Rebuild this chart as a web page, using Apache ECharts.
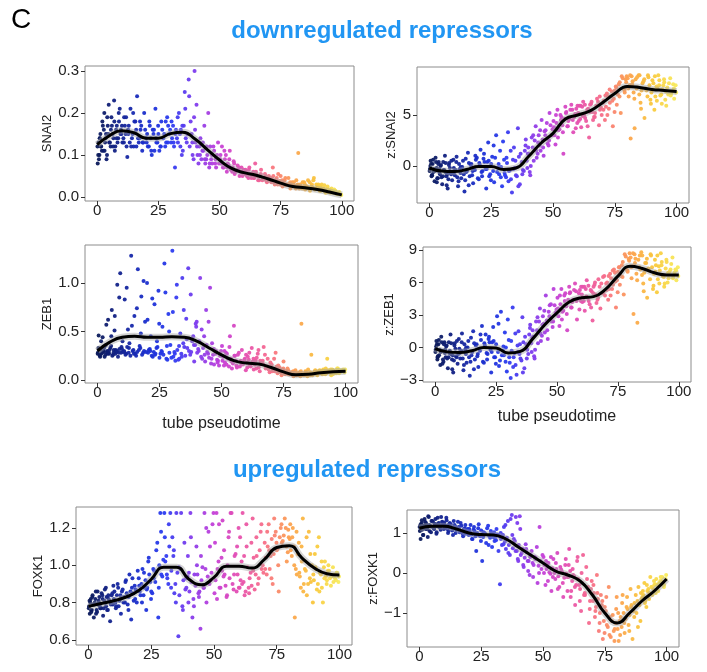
<!DOCTYPE html>
<html>
<head>
<meta charset="utf-8">
<script src="https://cdn.jsdelivr.net/npm/echarts@6/dist/echarts.min.js"></script>
<style>
  html, body { margin: 0; padding: 0; background: #fff; }
  #main { width: 707px; height: 672px; }
</style>
</head>
<body>
<div id="main"></div>
<script>
// pseudotime of each cell (shared by all panels), three batches of cells
var pseudotime = [
  0.2, 0.5, 0.9, 1.3, 1.6, 2.1, 2.5, 2.9, 3.4, 3.8, 4.3, 4.7, 5.2, 5.8, 6.3, 6.9, 7.4, 8.0, 8.6, 9.2, 9.7,
  10.3, 11.0, 11.6, 12.3, 12.9, 13.6, 14.2, 14.9, 15.6, 16.3, 17.0, 17.7, 18.4, 19.2,
  20.0, 20.7, 21.5, 22.3, 23.0, 23.8, 24.6, 25.4, 26.2, 27.0, 27.8, 28.6, 29.4,
  30.2, 31.0, 31.8, 32.6, 33.4, 34.2, 35.0, 35.8, 36.6, 37.4, 38.2, 39.0, 39.8,
  40.6, 41.4, 42.2, 43.0, 43.8, 44.6, 45.4, 46.2, 47.0, 47.8, 48.6, 49.4,
  50.2, 51.0, 51.8, 52.6, 53.4, 54.2, 55.0, 55.8, 56.6, 57.4, 58.2, 59.0, 59.8,
  60.6, 61.4, 62.2, 63.0, 63.8, 64.6, 65.4, 66.2, 67.0, 67.8, 68.6, 69.4,
  70.2, 71.0, 71.8, 72.6, 73.4, 74.2, 75.0, 75.8, 76.6, 77.4, 78.2, 79.0, 79.8,
  80.6, 81.4, 82.2, 83.0, 83.8, 84.6, 85.4, 86.2, 87.0, 87.8, 88.6, 89.4,
  90.2, 91.0, 91.8, 92.6, 93.4, 94.2, 95.0, 95.8, 96.6, 97.4, 98.2, 99.0, 99.6
];
var pseudotimeB = [
  0.1, 0.7, 1.1, 1.9, 2.7, 3.2, 4.0, 4.5, 5.5, 6.0, 6.6, 7.2, 7.7, 8.3, 8.9, 9.5,
  10.7, 11.3, 12.0, 12.6, 13.3, 14.5, 15.2, 16.0, 17.3, 18.0, 18.8,
  20.4, 21.1, 21.9, 22.7, 23.4, 24.2, 25.0, 25.8, 26.6, 28.2, 29.0,
  30.6, 31.4, 32.2, 33.0, 33.8, 34.6, 35.4, 36.2, 37.8, 38.6, 39.4,
  40.2, 41.0, 41.8, 42.6, 43.4, 44.2, 45.0, 45.8, 46.6, 48.2, 49.0,
  50.6, 51.4, 52.2, 53.0, 53.8, 54.6, 55.4, 56.2, 57.8, 58.6, 59.4,
  60.2, 61.0, 61.8, 62.6, 63.4, 64.2, 65.0, 65.8, 66.6, 68.2, 69.0,
  70.6, 71.4, 72.2, 73.0, 73.8, 74.6, 75.4, 76.2, 77.0, 78.6, 79.4,
  80.2, 81.0, 81.8, 82.6, 83.4, 84.2, 85.0, 85.8, 86.6, 88.2, 89.0,
  89.8, 90.6, 91.4, 92.2, 93.0, 93.8, 94.6, 95.4, 96.2, 97.8, 98.6
];
var pseudotimeC = [
  0.4, 1.0, 1.5, 2.3, 3.0, 3.6, 4.1, 4.9, 5.6, 6.5, 7.0, 7.9, 8.8, 9.9,
  10.1, 10.9, 11.8, 12.7, 13.9, 14.7, 15.9, 16.7, 17.5, 18.6, 19.6,
  20.2, 21.3, 22.1, 23.2, 24.0, 24.9, 26.0, 27.4, 28.0, 28.9, 29.8,
  30.4, 31.2, 32.0, 32.9, 34.0, 34.8, 36.0, 36.9, 37.6, 38.9, 39.6,
  40.0, 40.8, 42.0, 43.2, 44.0, 44.8, 46.0, 46.9, 47.5, 48.4, 49.8,
  50.4, 51.2, 52.0, 53.2, 54.0, 55.2, 56.0, 57.0, 58.0, 59.2, 59.9,
  60.4, 61.2, 62.0, 62.9, 64.0, 64.9, 65.6, 66.9, 67.5, 68.9, 69.7,
  70.4, 71.2, 72.0, 72.9, 74.0, 74.9, 75.6, 76.9, 77.8, 78.9, 79.6,
  80.4, 81.2, 82.0, 82.9, 84.0, 84.9, 85.6, 86.9, 87.5, 88.4, 89.6,
  90.4, 91.2, 92.0, 92.9, 94.0, 94.9, 95.6, 96.9, 97.6, 98.9, 99.8
];

var snai2 = [
  0.08, 0.13, 0.10, 0.15, 0.12, 0.18, 0.11, 0.20, 0.14, 0.09, 0.17, 0.22, 0.13, 0.19, 0.15, 0.23, 0.12, 0.17, 0.14, 0.21, 0.16,
  0.13, 0.19, 0.15, 0.095, 0.17, 0.21, 0.14, 0.12, 0.18, 0.24, 0.13, 0.16, 0.11, 0.20,
  0.14, 0.12, 0.17, 0.10, 0.15, 0.21, 0.13, 0.11, 0.18, 0.14, 0.12, 0.19, 0.15,
  0.13, 0.17, 0.07, 0.14, 0.20, 0.16, 0.11, 0.25, 0.13, 0.28, 0.18, 0.10, 0.30,
  0.22, 0.08, 0.14, 0.11, 0.17, 0.09, 0.20, 0.12, 0.08, 0.11, 0.07, 0.13,
  0.09, 0.12, 0.07, 0.10, 0.08, 0.11, 0.065, 0.085, 0.06, 0.075, 0.05, 0.07, 0.055,
  0.065, 0.05, 0.07, 0.045, 0.06, 0.08, 0.05, 0.04, 0.065, 0.045, 0.055, 0.035,
  0.05, 0.04, 0.07, 0.03, 0.045, 0.035, 0.05, 0.025, 0.04, 0.03, 0.045, 0.02, 0.035,
  0.025, 0.04, 0.105, 0.03, 0.02, 0.035, 0.025, 0.04, 0.015, 0.03, 0.045, 0.02,
  0.025, 0.015, 0.03, 0.02, 0.01, 0.025, 0.015, 0.02, 0.01, 0.015, 0.008, 0.012, 0.006
];
var snai2B = [
  0.12, 0.09, 0.14, 0.11, 0.16, 0.13, 0.10, 0.15, 0.12, 0.17, 0.14, 0.11, 0.16, 0.13, 0.18, 0.15,
  0.14, 0.17, 0.12, 0.16, 0.13, 0.15, 0.18, 0.12, 0.14, 0.17, 0.13,
  0.15, 0.12, 0.14, 0.16, 0.11, 0.13, 0.15, 0.12, 0.16, 0.13, 0.17,
  0.14, 0.12, 0.16, 0.13, 0.15, 0.10, 0.17, 0.14, 0.12, 0.15, 0.09,
  0.13, 0.10, 0.12, 0.09, 0.11, 0.08, 0.10, 0.07, 0.09, 0.08, 0.10,
  0.08, 0.07, 0.09, 0.06, 0.075, 0.065, 0.07, 0.055, 0.065, 0.06, 0.05,
  0.055, 0.06, 0.045, 0.055, 0.05, 0.045, 0.055, 0.04, 0.05, 0.045, 0.04,
  0.04, 0.045, 0.035, 0.04, 0.03, 0.038, 0.032, 0.035, 0.028, 0.03, 0.025,
  0.03, 0.025, 0.028, 0.02, 0.025, 0.022, 0.018, 0.025, 0.02, 0.022, 0.018,
  0.02, 0.018, 0.015, 0.02, 0.014, 0.016, 0.012, 0.01, 0.012, 0.008, 0.007
];
var snai2C = [
  0.10, 0.14, 0.12, 0.17, 0.11, 0.15, 0.19, 0.13, 0.16, 0.12, 0.18, 0.14, 0.20, 0.15,
  0.17, 0.13, 0.19, 0.15, 0.12, 0.20, 0.16, 0.14, 0.18, 0.13, 0.16,
  0.13, 0.18, 0.11, 0.16, 0.14, 0.17, 0.12, 0.15, 0.18, 0.13, 0.16,
  0.18, 0.13, 0.15, 0.19, 0.12, 0.17, 0.21, 0.15, 0.24, 0.13, 0.19,
  0.16, 0.12, 0.10, 0.13, 0.09, 0.12, 0.08, 0.10, 0.12, 0.09, 0.08,
  0.10, 0.08, 0.11, 0.07, 0.09, 0.06, 0.08, 0.065, 0.07, 0.06, 0.065,
  0.06, 0.05, 0.065, 0.055, 0.045, 0.06, 0.05, 0.055, 0.04, 0.05, 0.045,
  0.045, 0.035, 0.05, 0.04, 0.055, 0.03, 0.04, 0.045, 0.03, 0.035, 0.03,
  0.035, 0.02, 0.03, 0.025, 0.035, 0.03, 0.02, 0.035, 0.025, 0.04, 0.03,
  0.03, 0.025, 0.02, 0.028, 0.02, 0.018, 0.015, 0.018, 0.012, 0.01, 0.005
];
var zSnai2 = [
  -0.3, 0.5, -1.0, 0.2, -0.6, -1.5, 0.8, -0.2, -1.2, 0.4, -0.8, 0.1, -1.8, -0.4, 1.0, -1.0, -2.2, 0.3, -0.7, -1.4, 0.6,
  -0.9, 0.9, -2.0, -0.3, -1.2, 0.5, -2.5, -0.6, 1.3, -1.0, 0.2, -1.7, -0.4, 0.8,
  -1.3, 1.6, -0.5, 0.4, -2.2, 2.3, -0.8, 0.9, -1.6, 3.0, -0.2, 1.5, -2.0,
  0.6, -1.1, 3.3, -0.4, -2.6, 1.8, -0.9, 3.7, -1.8, 0.4, -0.5, 2.6, 1.2,
  -0.6, 2.8, 0.5, 3.9, 1.2, 2.0, 4.5, 1.0, 3.5, 2.2, 5.2, 3.0,
  4.4, 2.1, 5.5, 3.6, 4.8, 1.2, 5.8, 3.9, 4.6, 6.0, 3.3, 5.1, 4.2,
  5.9, 3.8, 6.3, 4.7, 5.5, 2.8, 6.1, 4.5, 5.2, 6.6, 4.0, 5.7,
  6.2, 4.5, 7.1, 5.6, 6.8, 3.9, 7.4, 6.0, 8.0, 5.2, 8.6, 7.2, 8.8,
  6.8, 2.7, 8.3, 3.7, 7.6, 8.9, 6.2, 8.1, 4.7, 7.4, 8.7, 6.5,
  8.4, 5.5, 7.8, 8.9, 6.9, 7.5, 8.2, 5.9, 7.0, 8.6, 7.3, 6.6, 7.9
];
var zSnai2B = [
  -0.5, 0.2, -0.9, -0.3, 0.4, -1.2, -0.6, 0.0, -1.0, -0.4, 0.3, -0.8, -1.3, -0.2, 0.5, -0.7,
  -0.4, -1.1, 0.2, -0.7, -0.1, -1.4, -0.5, 0.3, -0.9, -0.2, 0.6,
  0.1, -0.6, 0.7, -0.3, 0.4, -1.0, 0.2, -0.5, 0.8, -0.8, -0.1,
  -0.9, 0.3, -0.5, -1.3, 0.6, -0.2, -1.0, 0.9, -0.4, 1.5, 0.5,
  1.2, 0.0, 1.8, 2.5, 0.8, 3.0, 1.5, 2.6, 3.4, 2.0, 4.0,
  3.0, 4.2, 3.5, 5.0, 4.0, 4.6, 5.3, 4.4, 5.5, 4.8, 5.6,
  5.2, 4.6, 5.8, 5.0, 4.4, 5.6, 6.0, 5.3, 4.8, 6.3, 5.5,
  6.4, 5.8, 6.8, 6.2, 7.3, 6.6, 7.8, 7.0, 8.2, 7.6, 8.5,
  8.6, 7.9, 8.8, 7.2, 8.5, 7.7, 8.9, 7.4, 8.3, 6.8, 7.9,
  7.2, 8.1, 6.8, 7.6, 8.4, 7.0, 7.9, 6.5, 7.7, 7.1, 8.0
];
var zSnai2C = [
  0.0, -0.9, 0.6, -0.5, -1.6, 0.2, -0.3, -1.1, 0.4, -0.6, -1.9, 0.1, -0.8, -0.2,
  -0.6, 0.4, -1.5, -0.1, -0.8, 0.7, -1.9, 0.1, -0.5, 1.0, -1.2,
  0.3, -1.0, 1.2, -0.3, 0.5, -1.4, 2.0, -0.6, 0.2, -1.1, 2.4,
  -0.7, 0.8, -1.5, 1.5, -0.3, 0.5, -2.0, 1.2, -0.8, 2.0, -0.2,
  1.8, -0.9, 3.0, 1.5, 2.3, 3.5, 1.8, 3.0, 4.2, 2.5, 3.6,
  3.8, 5.0, 2.8, 4.5, 3.3, 5.2, 3.9, 5.5, 4.5, 3.7, 5.9,
  4.4, 5.9, 4.9, 6.0, 3.9, 5.3, 6.3, 4.8, 5.9, 6.8, 5.0,
  5.5, 6.9, 5.0, 7.5, 6.4, 5.3, 7.7, 6.8, 8.8, 7.4, 8.2,
  7.6, 8.9, 8.0, 6.6, 8.7, 7.0, 5.6, 8.5, 7.6, 8.9, 6.1,
  7.5, 8.8, 6.4, 7.9, 6.1, 8.5, 7.3, 8.1, 6.9, 7.6, 7.2
];
var zeb1 = [
  0.28, 0.46, 0.25, 0.32, 0.27, 0.44, 0.30, 0.24, 0.36, 0.29, 0.62, 0.27, 0.33, 0.72, 0.26, 0.51, 0.31, 0.98, 0.28, 1.10, 0.34,
  0.29, 0.83, 0.27, 0.52, 0.38, 1.28, 0.30, 0.66, 0.25, 1.14, 0.35, 0.86, 0.28, 0.60,
  1.00, 0.31, 0.45, 0.24, 0.78, 0.33, 0.92, 0.27, 0.55, 1.20, 0.22, 0.68, 0.36,
  1.33, 0.29, 0.85, 0.21, 0.48, 1.05, 0.34, 0.63, 1.15, 0.26, 0.40, 0.19, 0.55,
  0.32, 1.05, 0.22, 0.45, 0.72, 0.27, 0.95, 0.38, 0.16, 0.30, 0.20, 0.25,
  0.35, 0.15, 0.28, 0.22, 0.45, 0.12, 0.56, 0.20, 0.26, 0.14, 0.31, 0.18, 0.10,
  0.24, 0.15, 0.33, 0.11, 0.20, 0.27, 0.09, 0.18, 0.34, 0.12, 0.22, 0.08,
  0.16, 0.10, 0.28, 0.07, 0.13, 0.05, 0.19, 0.09, 0.12, 0.06, 0.08, 0.04, 0.10,
  0.06, 0.08, 0.58, 0.05, 0.09, 0.04, 0.07, 0.26, 0.06, 0.10, 0.05, 0.08,
  0.07, 0.11, 0.06, 0.22, 0.09, 0.05, 0.10, 0.08, 0.12, 0.07, 0.09, 0.11, 0.08
];
var zeb1B = [
  0.27, 0.31, 0.24, 0.29, 0.33, 0.26, 0.30, 0.28, 0.35, 0.25, 0.31, 0.27, 0.29, 0.24, 0.32, 0.28,
  0.30, 0.26, 0.34, 0.28, 0.25, 0.31, 0.27, 0.29, 0.33, 0.26, 0.30,
  0.28, 0.32, 0.25, 0.29, 0.27, 0.34, 0.23, 0.30, 0.26, 0.21, 0.28,
  0.24, 0.20, 0.31, 0.22, 0.27, 0.38, 0.25, 0.33, 0.29, 0.45, 0.36,
  0.28, 0.40, 0.24, 0.33, 0.19, 0.29, 0.23, 0.17, 0.26, 0.21, 0.15,
  0.24, 0.18, 0.27, 0.14, 0.22, 0.17, 0.25, 0.13, 0.20, 0.16, 0.22,
  0.18, 0.21, 0.14, 0.19, 0.16, 0.23, 0.13, 0.17, 0.20, 0.14, 0.11,
  0.12, 0.09, 0.14, 0.10, 0.08, 0.11, 0.07, 0.09, 0.06, 0.07, 0.05,
  0.05, 0.07, 0.04, 0.06, 0.05, 0.07, 0.06, 0.08, 0.05, 0.07, 0.09,
  0.08, 0.06, 0.09, 0.07, 0.10, 0.08, 0.11, 0.09, 0.07, 0.10, 0.09
];
var zeb1C = [
  0.33, 0.26, 0.40, 0.29, 0.35, 0.57, 0.27, 0.31, 0.45, 0.28, 0.66, 0.30, 0.85, 0.32,
  0.40, 0.29, 0.95, 0.33, 0.56, 0.27, 0.74, 0.31, 0.48, 1.02, 0.29,
  0.62, 0.30, 0.84, 0.26, 0.40, 0.58, 0.29, 0.90, 0.35, 0.50, 0.23,
  0.70, 0.27, 0.98, 0.35, 0.24, 0.72, 0.42, 0.30, 0.88, 0.36, 0.58,
  0.60, 0.30, 0.52, 0.26, 0.36, 0.60, 0.22, 0.32, 0.27, 0.18, 0.30,
  0.20, 0.30, 0.16, 0.34, 0.19, 0.25, 0.15, 0.28, 0.17, 0.21, 0.26,
  0.13, 0.28, 0.17, 0.22, 0.12, 0.31, 0.20, 0.16, 0.26, 0.14, 0.18,
  0.09, 0.22, 0.11, 0.15, 0.08, 0.12, 0.06, 0.10, 0.07, 0.09, 0.06,
  0.07, 0.05, 0.09, 0.06, 0.08, 0.11, 0.05, 0.07, 0.09, 0.06, 0.10,
  0.09, 0.07, 0.12, 0.08, 0.11, 0.06, 0.09, 0.12, 0.08, 0.10, 0.11
];
var zZeb1 = [
  -0.2, 0.6, -1.1, 0.3, -0.7, -1.6, 1.0, -0.3, -1.3, 0.5, -0.9, 0.2, -1.9, -0.5, 1.2, -1.1, -2.3, 0.4, -0.8, -1.5, 0.8,
  -1.0, 1.3, -2.1, -0.2, -1.4, 0.6, -2.6, -0.7, 1.5, -1.1, 0.3, -1.8, -0.3, 2.0,
  -1.4, 1.2, -0.6, 0.5, -2.3, 1.9, -0.9, 2.9, -1.7, 3.3, -0.3, 1.4, -2.2,
  0.7, -2.8, 3.7, -0.5, -2.5, 1.5, -1.0, 2.8, -1.9, 0.3, -0.6, 2.1, 0.9,
  -0.8, 2.4, 0.4, 3.6, 1.1, 2.2, 4.8, 0.8, 3.9, 2.4, 5.4, 3.2,
  4.6, 2.0, 5.4, 3.4, 5.0, 1.6, 5.6, 3.7, 4.4, 5.9, 2.6, 5.0, 4.3,
  5.6, 3.4, 6.2, 4.3, 5.3, 2.5, 5.8, 4.1, 6.3, 3.6, 5.0, 6.6,
  5.9, 4.4, 6.8, 5.4, 7.2, 3.7, 7.0, 5.8, 7.6, 4.9, 8.4, 7.0, 8.7,
  6.4, 3.1, 8.2, 2.3, 7.4, 8.8, 5.9, 7.8, 4.6, 7.1, 8.5, 5.4,
  8.1, 5.1, 7.5, 8.7, 6.6, 5.9, 7.9, 6.4, 7.2, 8.3, 6.9, 6.2, 7.4
];
var zZeb1B = [
  -0.4, 0.3, -0.8, -0.2, 0.5, -1.1, -0.5, 0.1, -0.9, -0.3, 0.4, -0.7, -1.2, -0.1, 0.6, -0.6,
  -0.3, -1.0, 0.3, -0.6, 0.0, -1.3, -0.4, 0.4, -0.8, -0.1, 0.7,
  0.2, -0.5, 0.8, -0.2, 0.5, -0.9, 0.3, -0.4, -1.2, -0.7, 0.0,
  -1.4, -0.3, -0.9, -1.6, 0.2, -0.6, -1.2, 0.5, -0.2, 1.2, 0.4,
  1.0, -0.2, 1.6, 2.4, 0.6, 2.9, 1.4, 2.5, 3.3, 1.9, 3.9,
  2.9, 4.0, 3.3, 4.8, 3.8, 4.4, 5.1, 4.2, 5.2, 4.5, 5.3,
  4.9, 4.3, 5.4, 4.6, 4.0, 5.2, 5.6, 4.9, 4.4, 5.9, 5.1,
  6.0, 5.4, 6.4, 5.8, 6.9, 6.2, 7.4, 6.6, 7.9, 7.2, 8.2,
  8.3, 7.5, 8.6, 6.8, 8.1, 7.2, 8.5, 6.9, 7.8, 6.3, 7.4,
  6.8, 7.6, 6.3, 7.1, 7.9, 6.5, 7.3, 6.0, 7.0, 6.6, 7.2
];
var zZeb1C = [
  0.1, -0.9, 0.7, -0.4, -1.5, 0.3, -0.2, -1.0, 0.5, -0.6, -2.0, 0.2, -0.9, -0.1,
  -0.5, 0.5, -1.6, 0.0, -0.9, 0.9, -2.0, 0.2, -0.6, 1.2, -1.3,
  0.4, -1.1, 1.0, -0.4, 0.6, -1.5, 2.2, -0.7, 0.1, -1.3, 2.6,
  -0.9, 0.6, -1.8, 1.3, -0.4, 0.3, -2.3, 1.0, -1.0, 1.8, -0.4,
  1.6, -1.0, 2.8, 1.3, 2.1, 3.4, 1.6, 2.9, 4.0, 2.4, 3.5,
  3.6, 4.8, 2.6, 4.3, 3.1, 5.0, 3.7, 5.3, 4.3, 3.5, 5.6,
  4.2, 5.6, 4.7, 5.7, 3.7, 5.0, 6.0, 4.6, 5.6, 6.5, 4.8,
  5.3, 6.6, 4.8, 7.1, 6.1, 5.1, 7.4, 6.5, 8.6, 7.1, 8.0,
  7.4, 8.7, 7.8, 6.2, 8.5, 6.7, 5.2, 8.2, 7.3, 8.6, 5.7,
  7.0, 8.5, 5.9, 7.6, 5.6, 8.1, 6.9, 7.7, 6.4, 7.1, 6.6
];
var foxk1 = [
  0.78, 0.74, 0.82, 0.76, 0.84, 0.72, 0.80, 0.86, 0.75, 0.79, 0.83, 0.77, 0.85, 0.73, 0.81, 0.88, 0.76, 0.82, 0.70, 0.84, 0.79,
  0.86, 0.78, 0.90, 0.81, 0.74, 0.87, 0.83, 0.92, 0.79, 0.95, 0.71, 0.85, 0.89, 0.80,
  0.93, 0.84, 0.98, 0.88, 0.76, 1.02, 0.91, 0.85, 0.97, 1.08, 0.72, 1.28, 0.94,
  1.28, 1.05, 0.90, 1.28, 1.15, 0.85, 1.28, 0.62, 0.98, 0.78, 1.12, 0.88, 0.80,
  1.28, 0.72, 0.95, 1.10, 0.85, 0.66, 0.99, 1.28, 0.80, 1.18, 0.92, 1.22,
  0.85, 1.28, 1.02, 0.88, 1.24, 0.95, 0.83, 1.15, 1.28, 0.90, 1.05, 0.86, 1.20,
  0.92, 1.28, 0.84, 1.10, 0.88, 0.96, 1.25, 0.87, 1.05, 0.93, 1.18, 1.00,
  1.12, 0.95, 1.22, 1.05, 0.90, 1.16, 1.08, 0.86, 1.20, 1.13, 1.25, 1.02, 1.15,
  1.08, 1.20, 0.72, 0.95, 1.12, 0.88, 1.25, 0.98, 0.84, 1.18, 0.91, 0.80,
  1.06, 0.87, 1.15, 0.95, 0.80, 1.02, 0.92, 0.97, 0.89, 0.99, 0.93, 0.96, 0.91
];
var foxk1B = [
  0.77, 0.80, 0.75, 0.79, 0.82, 0.76, 0.81, 0.78, 0.84, 0.77, 0.80, 0.83, 0.76, 0.81, 0.79, 0.85,
  0.80, 0.84, 0.78, 0.82, 0.86, 0.80, 0.85, 0.83, 0.88, 0.81, 0.87,
  0.86, 0.90, 0.84, 0.92, 0.88, 0.95, 0.86, 0.98, 0.91, 1.00, 0.95,
  1.02, 0.93, 1.10, 0.97, 1.05, 0.90, 0.96, 0.84, 0.92, 0.87, 0.94,
  0.86, 0.91, 0.82, 0.89, 0.95, 0.86, 0.92, 0.88, 0.98, 0.90, 0.96,
  0.92, 0.98, 0.88, 1.04, 0.94, 0.89, 1.00, 0.93, 0.87, 1.06, 0.95,
  0.88, 1.02, 0.91, 0.86, 0.99, 0.93, 0.89, 1.04, 0.95, 1.08, 0.98,
  1.04, 1.10, 0.98, 1.14, 1.06, 1.18, 1.09, 1.15, 1.12, 1.20, 1.07,
  1.14, 1.05, 1.10, 0.98, 1.06, 0.94, 1.02, 0.90, 0.97, 0.93, 1.00,
  0.92, 0.98, 0.90, 0.96, 0.88, 0.99, 0.94, 0.97, 0.93, 0.95, 0.92
];
var foxk1C = [
  0.81, 0.76, 0.83, 0.79, 0.74, 0.86, 0.80, 0.77, 0.82, 0.87, 0.78, 0.84, 0.80, 0.89,
  0.82, 0.77, 0.88, 0.84, 0.80, 0.91, 0.76, 0.86, 0.93, 0.82, 0.97,
  0.89, 0.80, 0.96, 0.87, 1.04, 0.82, 0.93, 1.12, 0.88, 1.18, 1.03,
  1.15, 0.95, 1.22, 0.88, 1.08, 0.80, 0.99, 1.28, 0.76, 0.93, 1.05,
  0.96, 1.15, 0.78, 1.00, 0.83, 1.05, 0.88, 1.20, 0.94, 1.10, 1.28,
  1.12, 0.82, 1.22, 0.97, 1.08, 0.84, 1.18, 1.28, 0.95, 1.10, 0.88,
  1.15, 0.90, 1.05, 1.22, 0.85, 1.12, 0.97, 1.15, 0.90, 1.22, 0.96,
  0.98, 1.18, 1.08, 0.93, 1.25, 1.12, 1.00, 1.22, 1.16, 1.10, 1.19,
  1.22, 1.15, 1.00, 1.18, 0.96, 1.10, 0.86, 1.15, 0.90, 1.06, 0.95,
  0.99, 1.10, 0.86, 1.02, 0.93, 0.90, 1.00, 0.94, 0.91, 0.96, 0.94
];
var zFoxk1 = [
  1.05, 0.85, 1.25, 1.15, 0.95, 1.35, 1.10, 1.20, 0.90, 1.40, 1.18, 1.02, 1.30, 1.12, 1.22, 0.98, 1.38, 1.15, 1.08, 1.28, 1.20,
  1.12, 1.32, 1.00, 1.25, 1.15, 0.95, 1.20, 1.08, 1.28, 1.02, 1.18, 0.92, 1.12, 1.05,
  0.95, 1.20, 0.85, 1.05, 0.55, 1.12, 0.92, 0.30, 1.00, 0.75, 1.18, 0.88, 0.65,
  1.02, 0.82, 0.95, -0.28, 0.70, 1.15, 0.60, 1.30, 0.45, 1.45, 0.85, 1.40, 0.35,
  1.42, 0.50, 0.15, 0.72, 0.30, -0.05, 0.55, 0.20, 0.38, -0.25, 1.15, 0.10,
  0.40, -0.30, 0.25, 0.02, -0.45, 0.35, -0.15, 0.50, -0.35, 0.08, -0.60, 0.20, -0.10,
  0.60, -0.45, -0.05, -0.80, 0.30, -0.30, -0.95, 0.45, -0.55, -0.15, -1.25, -0.40,
  -0.70, -1.10, -0.05, -1.45, -0.55, -1.65, -0.85, -1.30, -0.35, -1.60, -1.05, -1.40, -0.60,
  -1.70, -1.10, -0.55, -1.50, -0.85, -1.30, -0.40, -1.65, -0.75, -1.00, -0.35, -1.20,
  -0.60, -0.25, -0.85, -0.40, -0.10, -0.55, -0.30, -0.15, -0.45, -0.20, -0.10, -0.30, -0.15
];
var zFoxk1B = [
  1.15, 1.22, 1.08, 1.18, 1.25, 1.12, 1.20, 1.16, 1.28, 1.10, 1.22, 1.17, 1.24, 1.14, 1.19, 1.26,
  1.18, 1.10, 1.22, 1.14, 1.06, 1.16, 1.08, 1.12, 1.02, 1.10, 0.98,
  1.04, 0.96, 1.08, 0.92, 1.00, 0.95, 1.06, 0.90, 0.98, 0.93, 0.99,
  0.88, 0.96, 0.92, 0.85, 0.95, 0.78, 0.88, 0.70, 0.62, 0.80, 0.55,
  0.70, 0.45, 0.60, 0.38, 0.52, 0.30, 0.45, 0.25, 0.40, 0.18, 0.30,
  0.20, 0.10, 0.25, -0.02, 0.12, 0.00, 0.10, -0.08, 0.02, -0.12, -0.02,
  -0.10, 0.05, -0.20, -0.08, -0.30, -0.15, -0.40, -0.25, -0.55, -0.35, -0.70,
  -0.50, -0.85, -0.65, -1.00, -0.80, -1.20, -0.95, -1.35, -1.10, -1.45, -1.25,
  -1.40, -1.20, -1.35, -1.00, -1.15, -0.90, -1.05, -0.80, -0.95, -0.70, -0.80,
  -0.65, -0.55, -0.70, -0.45, -0.50, -0.35, -0.40, -0.28, -0.30, -0.20, -0.22
];
var zFoxk1C = [
  1.20, 1.32, 0.95, 1.28, 1.10, 1.42, 1.05, 1.30, 1.14, 1.35, 1.02, 1.25, 1.40, 1.10,
  1.25, 1.38, 1.05, 1.22, 1.30, 1.00, 1.15, 1.25, 0.98, 1.20, 1.10,
  1.10, 0.85, 1.15, 0.98, 1.22, 0.80, 1.02, 1.12, 0.70, 1.05, 0.90,
  0.80, 1.10, 0.55, 1.00, 0.72, 1.20, 0.50, 1.35, 0.95, 0.55, 1.25,
  0.30, 1.10, 0.20, 0.60, 0.05, 0.40, -0.10, 0.35, 0.65, 0.00, 0.45,
  0.00, 0.30, -0.20, 0.40, -0.10, 0.25, -0.40, 0.15, -0.25, 0.35, -0.45,
  0.20, -0.60, 0.10, -0.35, 0.40, -0.70, 0.00, -0.50, 0.15, -0.90, -0.20,
  -0.30, -0.95, -0.50, -1.25, -0.70, -1.50, -0.60, -1.55, -1.20, -1.70, -0.90,
  -1.00, -1.55, -0.75, -1.25, -0.60, -1.45, -0.85, -1.10, -0.55, -1.35, -0.50,
  -0.45, -0.75, -0.30, -0.65, -0.35, -0.20, -0.50, -0.25, -0.10, -0.35, -0.05
];

// smoothed fits, read every 5 units of pseudotime
var fitX = [0, 5, 10, 15, 20, 25, 30, 35, 40, 45, 50, 55, 60, 65, 70, 75, 80, 85, 90, 95, 100];
var snai2Fit = [0.125, 0.146, 0.158, 0.153, 0.140, 0.140, 0.151, 0.154, 0.138, 0.113, 0.088, 0.068, 0.058, 0.052, 0.043, 0.033, 0.025, 0.022, 0.018, 0.012, 0.005];
var zSnai2Fit = [-0.2, -0.5, -0.55, -0.35, -0.05, -0.05, -0.35, -0.2, 0.9, 2.2, 3.2, 4.6, 5.0, 5.4, 6.2, 7.1, 7.8, 7.7, 7.5, 7.4, 7.3];
var zeb1Fit = [0.30, 0.39, 0.44, 0.45, 0.44, 0.44, 0.445, 0.44, 0.40, 0.33, 0.26, 0.20, 0.175, 0.165, 0.13, 0.085, 0.055, 0.06, 0.075, 0.085, 0.09];
var zZeb1Fit = [-0.1, -0.4, -0.45, -0.3, 0.0, -0.05, -0.5, -0.35, 0.8, 2.1, 3.2, 4.2, 4.6, 4.7, 5.4, 6.6, 7.5, 7.3, 6.9, 6.7, 6.7];
var foxk1Fit = [0.78, 0.795, 0.81, 0.83, 0.865, 0.925, 0.99, 0.99, 0.925, 0.895, 0.935, 0.995, 0.995, 0.985, 1.03, 1.095, 1.105, 1.04, 0.985, 0.955, 0.948];
var zFoxk1Fit = [1.12, 1.17, 1.17, 1.1, 1.0, 0.96, 0.95, 0.85, 0.65, 0.45, 0.25, 0.05, -0.05, -0.2, -0.55, -1.0, -1.25, -1.0, -0.7, -0.45, -0.15];

var xTicks = [0, 25, 50, 75, 100];
var pseudotimeColors = ['#0c1a5a', '#142494', '#1b2fd0', '#2a3cf0', '#7f3cee', '#c540d8', '#e650b0', '#f86e88', '#fca050', '#f9c83c', '#f8ec5e'];

var FONT = '"Liberation Sans", Arial, sans-serif';

var option = {
    animation: false,
    backgroundColor: '#fff',
    grid: [], xAxis: [], yAxis: [], series: [],
    visualMap: {
        show: false, type: 'continuous', dimension: 0, min: 0, max: 100,
        seriesIndex: [], inRange: { color: pseudotimeColors }
    },
    graphic: [
        { type: 'text', left: 11, top: 6, style: { text: 'C', font: '28px ' + FONT, fill: '#000' } },
        { type: 'text', x: 382, y: 31, style: { text: 'downregulated repressors', font: 'bold 24px ' + FONT, fill: '#2196f3', textAlign: 'center', textVerticalAlign: 'middle' } },
        { type: 'text', x: 367, y: 470, style: { text: 'upregulated repressors', font: 'bold 24px ' + FONT, fill: '#2196f3', textAlign: 'center', textVerticalAlign: 'middle' } }
    ]
};

function fmt(dec) {
    return function(v) {
        return (v < 0 ? '\u2212' : '') + Math.abs(v).toFixed(dec);
    };
}

function addPanel(box, cells, fit, yMin, yMax, yTicks, dec, yName, yGap, xName, xGap) {
    var i = option.grid.length;
    option.grid.push({ left: box[0], top: box[1], width: box[2], height: box[3],
        show: true, borderColor: '#8c8c8c', borderWidth: 1 });
    option.xAxis.push({
        type: 'value', gridIndex: i, min: -5, max: 105,
        name: xName || '', nameLocation: 'middle', nameGap: xGap || 0,
        nameTextStyle: { fontFamily: FONT, fontSize: 16, color: '#222' },
        axisLine: { show: false, onZero: false },
        axisTick: { show: true, length: 4, lineStyle: { color: '#333' }, customValues: xTicks },
        axisLabel: { fontFamily: FONT, fontSize: 15, color: '#222', margin: 2, customValues: xTicks },
        splitLine: { show: false }
    });
    option.yAxis.push({
        type: 'value', gridIndex: i, min: yMin, max: yMax,
        name: yName, nameLocation: 'middle', nameGap: yGap,
        nameTextStyle: { fontFamily: FONT, fontSize: 13, color: '#222' },
        axisLine: { show: false, onZero: false },
        axisTick: { show: true, length: 4, lineStyle: { color: '#333' }, customValues: yTicks },
        axisLabel: { fontFamily: FONT, fontSize: 15, color: '#222', margin: 6, customValues: yTicks, formatter: fmt(dec) },
        splitLine: { show: false }
    });
    // cells: list of [pseudotime array, value array] batches
    var pts = [];
    cells.forEach(function(batch) {
        for (var k = 0; k < batch[0].length; k++) {
            pts.push([batch[0][k], batch[1][k]]);
        }
    });
    var line = [];
    for (var j = 0; j < fitX.length; j++) {
        line.push([fitX[j], fit[j]]);
    }
    option.visualMap.seriesIndex.push(option.series.length);
    option.series.push({
        type: 'scatter', xAxisIndex: i, yAxisIndex: i, data: pts,
        symbolSize: 4, itemStyle: { opacity: 0.95 }, z: 2
    });
    option.series.push({
        type: 'line', xAxisIndex: i, yAxisIndex: i, data: line, smooth: 0.5,
        symbol: 'none', lineStyle: { color: 'rgba(160,160,160,0.45)', width: 7 }, z: 3, silent: true
    });
    option.series.push({
        type: 'line', xAxisIndex: i, yAxisIndex: i, data: line, smooth: 0.5,
        symbol: 'none', lineStyle: { color: '#000', width: 3 }, z: 4, silent: true
    });
}

addPanel([85, 66, 269, 135], [[pseudotime, snai2], [pseudotimeB, snai2B], [pseudotimeC, snai2C]],
    snai2Fit, -0.0095, 0.312, [0, 0.1, 0.2, 0.3], 1, 'SNAI2', 31);
addPanel([417, 67, 272, 136], [[pseudotime, zSnai2], [pseudotimeB, zSnai2B], [pseudotimeC, zSnai2C]],
    zSnai2Fit, -3.63, 9.7, [0, 5], 0, 'z:SNAI2', 19);
addPanel([85, 245, 273, 138], [[pseudotime, zeb1], [pseudotimeB, zeb1B], [pseudotimeC, zeb1C]],
    zeb1Fit, -0.03, 1.39, [0, 0.5, 1.0], 1, 'ZEB1', 31, 'tube pseudotime', 33);
addPanel([423, 247, 268, 135], [[pseudotime, zZeb1], [pseudotimeB, zZeb1B], [pseudotimeC, zZeb1C]],
    zZeb1Fit, -3.18, 9.28, [-3, 0, 3, 6, 9], 0, 'z:ZEB1', 25, 'tube pseudotime', 27);
addPanel([76, 507, 276, 138], [[pseudotime, foxk1], [pseudotimeB, foxk1B], [pseudotimeC, foxk1C]],
    foxk1Fit, 0.573, 1.312, [0.6, 0.8, 1.0, 1.2], 1, 'FOXK1', 31);
addPanel([407, 510, 272, 137], [[pseudotime, zFoxk1], [pseudotimeB, zFoxk1B], [pseudotimeC, zFoxk1C]],
    zFoxk1Fit, -1.85, 1.575, [-1, 0, 1], 0, 'z:FOXK1', 26);

var chart = echarts.init(document.getElementById('main'));
chart.setOption(option);
</script>
</body>
</html>
